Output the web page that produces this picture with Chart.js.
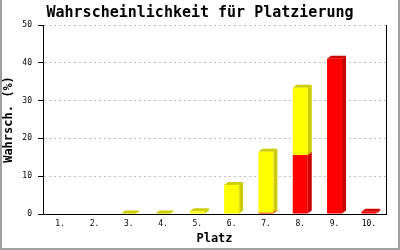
<!DOCTYPE html>
<html>
<head>
<meta charset="utf-8">
<script src="https://cdn.jsdelivr.net/npm/chart.js@4"></script>
<style>
    body { margin: 0; background: #fff; }
    #wrap { width: 400px; height: 250px; }
</style>
</head>
<body>
<div id="wrap"><canvas id="grafik" width="400" height="250"></canvas></div>
<script>
// Daten
const plaetze = ['1.', '2.', '3.', '4.', '5.', '6.', '7.', '8.', '9.', '10.']
const rot = [0, 0, 0, 0, 0, 0, 0.3, 15.6, 41.1, 0.6]
const gelb = [0, 0, 0.1, 0.1, 0.7, 7.7, 16.2, 17.8, 0, 0]
const yTicks = [0, 10, 20, 30, 40, 50]

const schrift = "'DejaVu Sans Mono', 'Liberation Mono', monospace"
Chart.defaults.font.family = schrift
Chart.defaults.color = '#000'

// 3D-Effekt: Seite und Deckel hinter die Balken zeichnen
const tiefeX = 4
const tiefeY = 3
const balken3d = {
    id: 'balken3d',
    beforeDatasetsDraw(chart) {
        const ctx = chart.ctx
        ctx.save()
        chart.data.datasets.forEach((ds, di) => {
            const meta = chart.getDatasetMeta(di)
            meta.data.forEach((bar, i) => {
                if (!ds.data[i]) return
                const p = bar.getProps(['x', 'y', 'base', 'width'], true)
                const links = p.x - p.width / 2
                const rechts = p.x + p.width / 2
                ctx.fillStyle = ds.seitenFarbe
                // Seite
                ctx.beginPath()
                ctx.moveTo(rechts, p.base)
                ctx.lineTo(rechts, p.y)
                ctx.lineTo(rechts + tiefeX, p.y - tiefeY)
                ctx.lineTo(rechts + tiefeX, p.base - tiefeY)
                ctx.closePath()
                ctx.fill()
                // Deckel
                ctx.beginPath()
                ctx.moveTo(links, p.y)
                ctx.lineTo(links + tiefeX, p.y - tiefeY)
                ctx.lineTo(rechts + tiefeX, p.y - tiefeY)
                ctx.lineTo(rechts, p.y)
                ctx.closePath()
                ctx.fill()
            })
        })
        ctx.restore()
    },
    afterDraw(chart) {
        const ctx = chart.ctx
        ctx.save()
        // grauer Rahmen
        ctx.strokeStyle = '#a0a0a0'
        ctx.lineWidth = 2
        ctx.beginPath()
        ctx.moveTo(1, 0)
        ctx.lineTo(1, chart.height - 1)
        ctx.lineTo(chart.width - 1, chart.height - 1)
        ctx.lineTo(chart.width - 1, 0)
        ctx.stroke()
        ctx.restore()
    }
}

new Chart(document.querySelector('#grafik'), {
    type: 'bar',
    data: {
        labels: plaetze,
        datasets: [{
            label: 'rot',
            data: rot,
            backgroundColor: '#ff0000',
            seitenFarbe: '#cc0000'
        }, {
            label: 'gelb',
            data: gelb,
            backgroundColor: '#ffff00',
            seitenFarbe: '#cccc00'
        }]
    },
    options: {
        responsive: false,
        animation: false,
        layout: { padding: { left: 2, right: 2, top: 0, bottom: 0 } },
        datasets: { bar: { barThickness: 15, borderWidth: 0, inflateAmount: 0 } },
        plugins: {
            legend: { display: false },
            tooltip: { enabled: false },
            title: {
                display: true,
                text: 'Wahrscheinlichkeit für Platzierung',
                font: { size: 15, weight: 'bold', lineHeight: 1 },
                color: '#000',
                padding: { top: 6, bottom: 4 }
            }
        },
        scales: {
            x: {
                stacked: true,
                grid: { display: false, drawTicks: false },
                border: { color: '#000' },
                ticks: { font: { size: 8 }, padding: 5, maxRotation: 0 },
                title: {
                    display: true,
                    text: 'Platz',
                    font: { size: 12, weight: 'bold' },
                    padding: { top: 0, bottom: 4 }
                },
                afterFit: (s) => { s.height = 36 }
            },
            y: {
                stacked: true,
                min: 0,
                max: 50,
                afterBuildTicks: (s) => { s.ticks = yTicks.map(v => ({ value: v })) },
                grid: {
                    color: (c) => c.tick && c.tick.value === 0 ? 'transparent' : '#c0c0c0',
                    tickColor: '#000',
                    tickLength: 5,
                    tickBorderDash: [1, 0]
                },
                border: { color: '#000', dash: [2, 3] },
                ticks: { font: { size: 8 }, padding: 6 },
                title: {
                    display: true,
                    text: 'Wahrsch. (%)',
                    font: { size: 12, weight: 'bold' },
                    padding: { top: 0, bottom: 0 }
                },
                afterFit: (s) => { s.width = 41 }
            },
            rechts: {
                position: 'right',
                min: 0,
                max: 50,
                grid: { display: false, drawTicks: false },
                border: { color: '#000' },
                ticks: { display: false },
                afterFit: (s) => { s.width = 12 }
            }
        }
    },
    plugins: [balken3d]
})
</script>
</body>
</html>
